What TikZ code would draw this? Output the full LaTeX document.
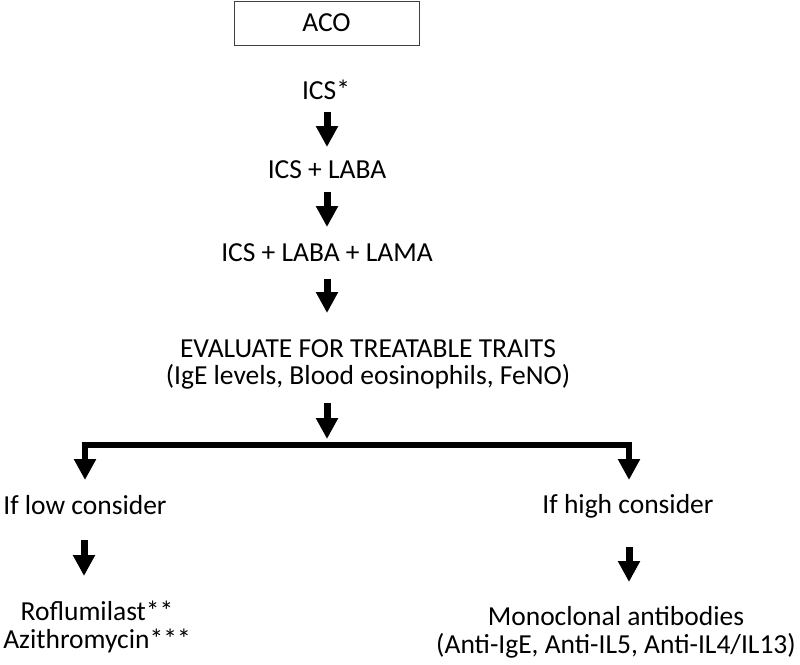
\documentclass[tikz,border=0pt]{standalone}
\usepackage{fontspec}
\setmainfont{Carlito}
\usetikzlibrary{arrows.meta}
\begin{document}
\begin{tikzpicture}[x=1pt,y=-1pt,
  txt/.style={inner sep=0pt, anchor=base, align=center, font=\fontsize{27.5}{27.5}\selectfont},
  bigarrow/.style={line width=7pt, -{Triangle[width=21pt,length=21pt]}},
  splitline/.style={line width=6pt, line join=miter, {Triangle[width=21pt,length=21pt]}-{Triangle[width=21pt,length=21pt]}},
  topbox/.style={draw=black!75, line width=1pt, minimum width=185pt, minimum height=44pt, inner sep=0pt, font=\fontsize{27.5}{27.5}\selectfont}]
\useasboundingbox (0,0) rectangle (800,664);
\node[topbox] (aco) at (326.5,23) {ACO};
\node[txt] (ics) at (326,99) {ICS*};
\node[txt] (icslaba) at (327,178) {ICS + LABA};
\node[txt] (icslabalama) at (327,261) {ICS + LABA + LAMA};
% base anchor of a two-line node is the baseline of its last line
\node[txt, font=\fontsize{27.5}{27}\selectfont] (eval) at (368,384) {EVALUATE FOR TREATABLE TRAITS\\(IgE levels, Blood eosinophils, FeNO)};
\node[txt] (low) at (85,514) {If low consider};
\node[txt] (high) at (628,513) {If high consider};
\node[txt] (lowtx) at (97,648) {Roflumilast**\\Azithromycin***};
\node[txt, font=\fontsize{27.5}{28}\selectfont] (hightx) at (616,653) {Monoclonal antibodies\\(Anti-IgE, Anti-IL5, Anti-IL4/IL13)};
% arrow end points
\coordinate (a1s) at (327,112); \coordinate (a1e) at (327,147);
\coordinate (a2s) at (327,192); \coordinate (a2e) at (327,227);
\coordinate (a3s) at (327,279); \coordinate (a3e) at (327,313);
\coordinate (a4s) at (327,403); \coordinate (a4e) at (327,439);
\coordinate (bl) at (85,445); \coordinate (br) at (629,445);
\coordinate (dl) at (85,480); \coordinate (dr) at (629,480);
\coordinate (a5s) at (84,540); \coordinate (a5e) at (84,576);
\coordinate (a6s) at (629,547); \coordinate (a6e) at (629,582);
\draw[bigarrow] (a1s) -- (a1e);
\draw[bigarrow] (a2s) -- (a2e);
\draw[bigarrow] (a3s) -- (a3e);
\draw[bigarrow] (a4s) -- (a4e);
\draw[splitline] (dl) -- (bl) -- (br) -- (dr);
\draw[bigarrow] (a5s) -- (a5e);
\draw[bigarrow] (a6s) -- (a6e);
\end{tikzpicture}
\end{document}
